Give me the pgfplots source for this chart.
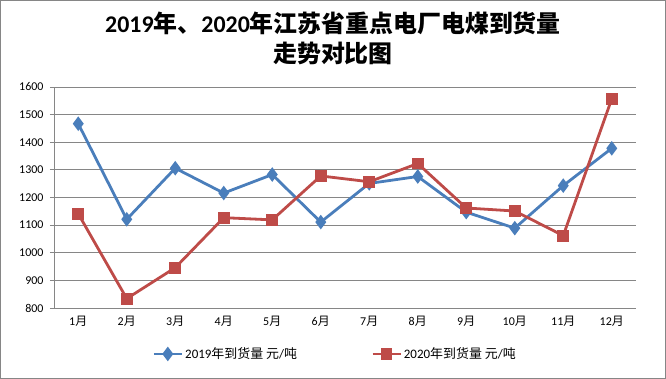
\documentclass[border=0pt]{standalone}
\usepackage{pgfplots}
\pgfplotsset{compat=1.18}
\usepackage{fontspec}
\setmainfont{Carlito}
\newfontfamily\cjk{Noto Sans CJK SC}
\definecolor{blue19}{HTML}{4A7EBB}
\definecolor{red20}{HTML}{BE4B48}
\definecolor{gridgray}{HTML}{868686}
\pgfplotstableread{
m v
1 1467
2 1121
3 1306
4 1216
5 1283
6 1111
7 1251
8 1276
9 1147
10 1089
11 1243
12 1378
}\tabA
\pgfplotstableread{
m v
1 1141
2 834
3 946
4 1127
5 1119
6 1278
7 1257
8 1323
9 1162
10 1151
11 1062
12 1557
}\tabB
\begin{document}
\begin{tikzpicture}
\useasboundingbox (0bp,0bp) rectangle (666bp,379bp);
\draw[gridgray, line width=1bp] (0.5bp,0.5bp) rectangle (665.5bp,378.5bp);
\node[font=\fontsize{24}{28}\selectfont\bfseries] at (333bp,356bp) {2019{\cjk 年、}2020{\cjk 年江苏省重点电厂电煤到货量}};
\node[font=\fontsize{24}{28}\selectfont\bfseries\cjk] at (333bp,326bp) {走势对比图};
\begin{axis}[
  at={(54bp,71bp)}, anchor=south west,
  scale only axis, width=582bp, height=221bp,
  xmin=0.5, xmax=12.5, ymin=800, ymax=1600,
  ytick={800,900,...,1600},
  xtick={1,...,12},
  xticklabels={1{\cjk 月},2{\cjk 月},3{\cjk 月},4{\cjk 月},5{\cjk 月},6{\cjk 月},7{\cjk 月},8{\cjk 月},9{\cjk 月},10{\cjk 月},11{\cjk 月},12{\cjk 月}},
  x tick style={draw=none},
  extra x ticks={0.5,1.5,...,12.5},
  extra x tick labels={},
  extra x tick style={tick style={draw=gridgray, line width=0.8bp}, major tick length=5bp, tick align=outside, grid=none},
  y tick style={draw=gridgray, line width=0.8bp}, major tick length=4bp, tick align=outside,
  axis x line*=bottom, axis y line*=left,
  axis line style={draw=gridgray, line width=0.8bp, -},
  ymajorgrids, grid style={draw=gridgray, line width=0.8bp},
  tick label style={font=\fontsize{12}{14}\selectfont},
  /pgf/number format/assume math mode=true,
  /pgf/number format/1000 sep={},
  yticklabel style={xshift=-3bp},
  xticklabel style={yshift=-1bp},
  legend style={at={(0.483,-0.208)}, anchor=center, draw=none, legend columns=2,
    font=\fontsize{13}{15}\selectfont, /tikz/every even column/.append style={column sep=72bp}},
  legend image code/.code={\draw[mark repeat=2,mark phase=2] plot coordinates {(0bp,0bp) (14bp,0bp) (28bp,0bp)};},
]
\addplot[blue19, line width=2.8bp, mark=diamond*, mark size=5bp, mark options={solid}] table[x=m,y=v] {\tabA};
\addlegendentry{2019{\cjk 年到货量} {\cjk 元}/{\cjk 吨}}
\addplot[red20, line width=2.8bp, mark=square*, mark size=4.5bp, mark options={solid}] table[x=m,y=v] {\tabB};
\addlegendentry{2020{\cjk 年到货量} {\cjk 元}/{\cjk 吨}}
\end{axis}
\end{tikzpicture}
\end{document}
